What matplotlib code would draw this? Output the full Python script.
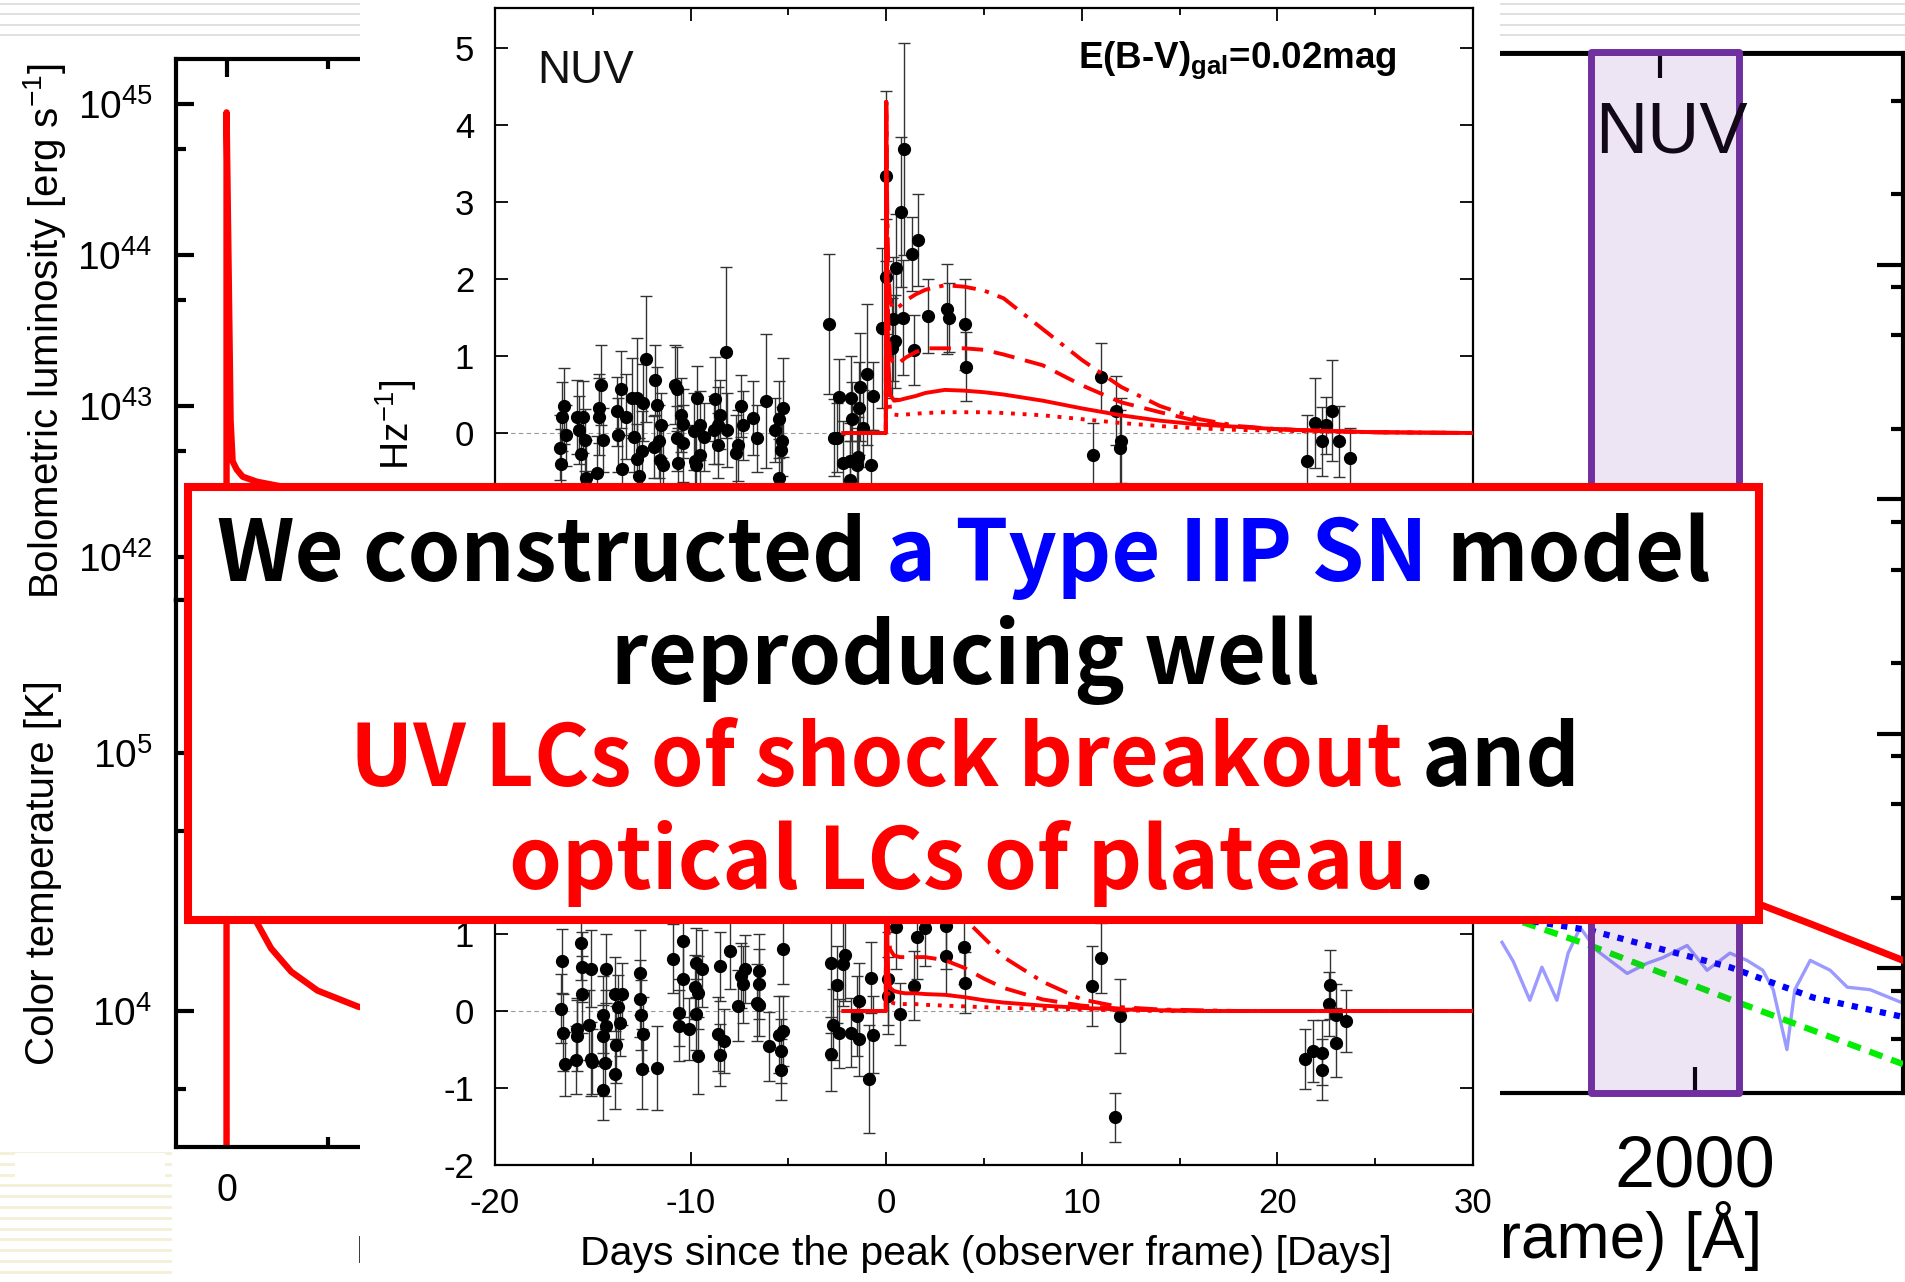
import numpy as np
import matplotlib
matplotlib.use("Agg")
import matplotlib.pyplot as plt
from matplotlib.patches import Rectangle
from matplotlib.lines import Line2D
from matplotlib.ticker import FixedLocator, MultipleLocator, NullFormatter, LogLocator
import matplotlib.transforms as mtransforms

# ---------------- data ----------------
# left panel: bolometric luminosity and colour temperature
t_lum = [-2.5, -0.001, 0.0, 0.05, 0.1, 0.15, 0.2, 0.3, 0.5, 0.8, 1.5, 2.6, 5.0, 10.0, 20.0]
L_bol = [1e40, 1e40, 8.8e44, 2.7e44, 8.4e43, 2.6e43, 8.0e42, 4.3e42, 3.8e42, 3.4e42,
         3.15e42, 2.95e42, 2.75e42, 2.5e42, 2.3e42]
t_temp = [-2.5, -0.001, 0.0, 0.1, 0.3, 0.6, 1.0, 1.5, 2.2, 3.2, 4.5, 6.5, 10.0, 15.0, 20.0]
T_col = [1000, 1000, 3.0e5, 1.5e5, 8.0e4, 4.5e4, 3.0e4, 2.2e4, 1.75e4, 1.42e4, 1.2e4,
         1.04e4, 9.0e3, 8.0e3, 7.2e3]

# centre panel (top): NUV photometry
t_top = [-16.45, -16.6, -16.35, -16.7, -16.64,
         -15.8, -15.5, -15.7, -15.4, -15.6, -15.35,
         -14.6, -14.7, -14.7, -14.5, -14.8,
         -13.55, -13.76, -13.3, -13.7, -13.5,
         -13.0, -12.74, -12.45, -12.3, -12.9, -12.5, -12.74, -12.65,
         -11.8, -11.7, -11.5, -11.6, -11.86, -11.56, -11.4,
         -10.8, -10.7, -10.5, -10.4, -10.7, -10.4, -10.66,
         -9.65, -9.5, -9.84, -9.34, -9.8, -9.5, -9.7,
         -8.2, -8.74, -8.5, -8.6, -8.8, -8.15, -8.6, -7.6, -7.7, -7.4, -7.3, -6.8, -6.6,
         -6.15, -5.67, -5.5, -5.3, -5.35, -5.4, -5.5,
         -2.9, -2.4, -2.65, -2.5, -1.8, -1.4, -1.75, -1.33, -1.0, -0.69, -1.2, -2.2,
         -1.86, -1.5, -1.45, -0.8, -1.86,
         0.0, 0.92, 0.75, 0.5, 0.0, 1.62, 1.31, -0.22, 0.34, 0.88, 0.46, 0.29, 1.4,
         2.14, 3.1, 3.2, 4.05, 4.1,
         11.0, 11.76, 12.0, 11.97, 10.57, 21.9, 22.5, 22.8, 22.3, 23.15, 21.5, 23.7]
f_top = [0.35, 0.21, -0.03, -0.19, -0.40,
         0.21, 0.21, 0.04, -0.09, -0.27, -0.59,
         0.62, 0.32, 0.21, -0.09, -0.52,
         0.57, 0.28, 0.21, -0.02, -0.47,
         0.46, 0.45, 0.39, 0.96, -0.05, -0.24, -0.34, -0.56,
         0.69, 0.36, 0.10, -0.11, -0.18, -0.35, -0.42,
         0.63, 0.57, 0.23, 0.12, -0.07, -0.13, -0.39,
         0.46, 0.10, 0.02, -0.05, -0.37, -0.29, -0.42,
         1.05, 0.44, 0.24, 0.10, 0.04, 0.04, -0.16, -0.16, -0.26, 0.35, 0.10, 0.20, -0.07,
         0.42, 0.04, 0.18, 0.33, -0.11, -0.22, -0.58,
         1.42, 0.47, -0.06, -0.06, 0.45, 0.32, 0.18, 0.60, 0.76, 0.48, 0.06, -0.39,
         -0.37, -0.42, -0.31, -0.41, -0.61,
         3.34, 3.69, 2.87, 2.14, 2.03, 2.51, 2.33, 1.36, 1.48, 1.50, 1.19, 1.10, 1.08,
         1.52, 1.61, 1.50, 1.41, 0.86,
         0.73, 0.29, -0.10, -0.20, -0.29, 0.13, 0.10, 0.29, -0.11, -0.11, -0.37, -0.33]
e_top = [0.49, 0.45, 0.40, 0.42, 0.45,
         0.48, 0.47, 0.44, 0.40, 0.45, 0.50,
         0.52, 0.45, 0.50, 0.42, 0.48,
         0.50, 0.45, 0.55, 0.48, 0.44,
         0.52, 0.79, 0.50, 0.82, 0.45, 0.52, 0.46, 0.50,
         0.45, 0.50, 0.42, 0.48, 0.40, 0.45, 0.52,
         0.51, 0.55, 0.48, 0.45, 0.42, 0.50, 0.46,
         0.41, 0.45, 0.50, 0.44, 0.48, 0.42, 0.50,
         1.11, 0.55, 0.45, 0.50, 0.44, 0.48, 0.42, 0.46, 0.50, 0.40, 0.45, 0.48, 0.44,
         0.87, 0.42, 0.50, 0.64, 0.45, 0.48, 0.50,
         0.91, 0.49, 0.50, 0.45, 0.55, 0.60, 0.48, 0.70, 0.91, 0.44, 0.50, 0.55,
         0.50, 0.48, 0.52, 0.45, 0.50,
         1.10, 1.38, 0.97, 0.70, 0.75, 0.60, 0.48, 1.04, 0.80, 0.75, 0.60, 0.65, 0.45,
         0.48, 0.59, 0.45, 0.59, 0.45,
         0.44, 0.45, 0.55, 0.50, 0.42, 0.58, 0.37, 0.66, 0.45, 0.46, 0.60, 0.40]

# centre panel (bottom)
t_bot = [-16.57, -16.64, -16.54, -16.4,
         -15.6, -15.55, -15.55, -15.8, -15.8, -15.85,
         -15.1, -15.2, -15.1, -15.05,
         -14.35, -14.5, -14.5, -14.4, -14.5,
         -13.85, -13.7, -13.8, -13.85, -14.3, -13.5, -13.6,
         -12.6, -12.6, -12.56, -12.45, -12.5, -11.7,
         -10.4, -10.9, -10.4, -10.6, -10.6,
         -9.7, -9.4, -9.8, -9.6, -9.7, -10.1, -9.6,
         -8.5, -8.6, -8.3, -8.5, -8.0,
         -7.6, -7.4, -7.3, -7.2,
         -6.5, -6.5, -6.6, -6.5, -6.0,
         -5.5, -5.3, -5.4, -5.4, -5.3,
         -2.8, -2.5, -2.7, -2.8, -2.4, -2.1, -2.2,
         -1.8, -1.5, -1.4, -1.4, -0.9, -0.8, -0.7,
         0.1, 0.1, 0.5, 0.7, 1.4, 1.6, 2.0, 3.05, 3.05, 4.0, 4.05,
         10.5, 11.0, 11.95, 11.7,
         21.4, 21.8, 22.3, 22.3, 22.7, 22.65, 23.0, 23.0, 23.5]
f_bot = [0.65, 0.03, -0.28, -0.69,
         0.88, 0.57, 0.22, -0.23, -0.32, -0.64,
         0.55, -0.18, -0.62, -0.66,
         0.55, -0.05, -0.32, -0.67, -1.03,
         0.22, 0.05, -0.44, -0.82, -0.19, 0.22, -0.15,
         0.50, 0.16, -0.05, -0.30, -0.75, -0.74,
         0.91, 0.68, 0.42, -0.02, -0.19,
         0.63, 0.55, 0.31, 0.24, -0.04, -0.23, -0.58,
         0.58, -0.30, -0.39, -0.57, 0.78,
         0.07, 0.46, 0.35, 0.55,
         0.52, 0.35, 0.11, 0.08, -0.46,
         -0.31, -0.26, -0.52, -0.76, 0.80,
         0.62, 0.34, -0.18, -0.56, -0.29, 0.73, 0.61,
         -0.28, -0.06, -0.36, 0.13, -0.88, 0.43, -0.31,
         0.20, 0.42, 1.09, -0.04, 0.33, 0.96, 1.08, 0.72, 1.10, 0.83, 0.37,
         0.33, 0.69, -0.06, -1.38,
         -0.62, -0.52, -0.54, -0.76, 0.34, 0.09, -0.05, -0.41, -0.13]
e_bot = [0.41, 0.45, 0.50, 0.42,
         0.48, 0.45, 0.50, 0.40, 0.46, 0.44,
         0.50, 0.45, 0.48, 0.42,
         0.45, 0.50, 0.40, 0.44, 0.38,
         0.48, 0.42, 0.50, 0.45, 0.46, 0.40, 0.44,
         0.55, 0.50, 0.45, 0.48, 0.52, 0.55,
         0.48, 0.45, 0.50, 0.44, 0.46,
         0.45, 0.50, 0.42, 0.48, 0.46, 0.40, 0.50,
         0.45, 0.48, 0.42, 0.40, 0.50,
         0.46, 0.42, 0.50, 0.44,
         0.48, 0.45, 0.50, 0.40, 0.45,
         0.50, 0.46, 0.42, 0.40, 0.45,
         0.90, 0.50, 0.46, 0.48, 0.45, 0.60, 0.55,
         0.45, 0.52, 0.48, 0.50, 0.70, 0.46, 0.50,
         0.50, 0.60, 0.55, 0.40, 0.45, 0.55, 0.50, 0.50, 0.55, 0.48, 0.40,
         0.52, 0.45, 0.48, 0.32,
         0.39, 0.40, 0.42, 0.40, 0.45, 0.42, 0.40, 0.45, 0.40]

# model light curves
t_mod = [-2.2, -0.02, 0.0, 0.05, 0.1, 0.2, 0.4, 0.7, 1.0, 1.5, 2.0, 3.0, 4.0, 5.0,
         6.0, 8.0, 10.0, 12.0, 14.0, 16.0, 18.0, 20.0, 22.0, 25.0, 30.0]
mod_solid = [0, 0, 4.3, 2.0, 1.0, 0.5, 0.42, 0.43, 0.45, 0.48, 0.52, 0.56, 0.55, 0.53,
             0.50, 0.42, 0.32, 0.23, 0.16, 0.11, 0.08, 0.05, 0.03, 0.01, 0.0]
mod_dotted = [0, 0, 4.3, 1.5, 0.6, 0.3, 0.24, 0.23, 0.24, 0.25, 0.26, 0.27, 0.27, 0.27,
              0.26, 0.23, 0.18, 0.13, 0.09, 0.06, 0.04, 0.03, 0.02, 0.01, 0.0]
mod_dashed = [0, 0, 4.3, 2.5, 1.5, 1.0, 0.88, 0.92, 0.98, 1.05, 1.1, 1.1, 1.1, 1.08,
              1.02, 0.88, 0.62, 0.40, 0.27, 0.15, 0.08, 0.05, 0.03, 0.01, 0.0]
mod_dashdot = [0, 0, 4.3, 3.0, 2.2, 1.7, 1.6, 1.65, 1.72, 1.8, 1.86, 1.92, 1.9, 1.85,
               1.75, 1.35, 0.95, 0.6, 0.35, 0.18, 0.09, 0.05, 0.03, 0.01, 0.0]
mod_solid_b = [0, 0, 3.0, 1.0, 0.5, 0.3, 0.26, 0.24, 0.23, 0.23, 0.22, 0.21, 0.18, 0.14,
               0.11, 0.07, 0.04, 0.02, 0.01, 0, 0, 0, 0, 0, 0]
mod_dotted_b = [0, 0, 2.5, 0.6, 0.25, 0.12, 0.10, 0.09, 0.09, 0.09, 0.08, 0.07, 0.06, 0.05,
                0.04, 0.03, 0.02, 0.01, 0, 0, 0, 0, 0, 0, 0]
mod_dashed_b = [0, 0, 3.5, 1.8, 1.1, 0.8, 0.72, 0.70, 0.70, 0.70, 0.70, 0.66, 0.56, 0.42,
                0.30, 0.15, 0.07, 0.03, 0.01, 0, 0, 0, 0, 0, 0]
mod_dashdot_b = [0, 0, 4.0, 2.5, 1.8, 1.4, 1.3, 1.3, 1.35, 1.4, 1.42, 1.35, 1.2, 0.95,
                 0.7, 0.38, 0.15, 0.05, 0.02, 0.01, 0, 0, 0, 0, 0]

# right panel: spectra (wavelength in A, arbitrary flux)
lam_red = [1000, 1500, 2000, 2163, 2276, 2500]
f_red = [11.9, 5.35, 2.4, 1.85, 1.55, 1.08]
lam_blue = [1000, 1596, 1748, 2084, 2284, 2500]
f_blue = [2.6, 1.6, 1.45, 1.01, 0.75, 0.62]
lam_green = [1000, 1596, 1748, 2108, 2500]
f_green = [3.2, 1.55, 1.25, 0.71, 0.39]
lam_spec = [1536, 1563, 1603, 1632, 1668, 1695, 1724, 1764, 1837, 1885, 1923, 1981,
            2029, 2084, 2125, 2163, 2188, 2221, 2240, 2277, 2325, 2366, 2421, 2500]
f_spec = [1.29, 1.07, 0.73, 1.01, 0.73, 1.16, 1.49, 1.19, 0.95, 1.05, 1.11, 1.25,
          0.98, 1.16, 1.08, 0.98, 0.81, 0.45, 0.81, 1.08, 0.98, 0.83, 0.81, 0.71]
nuv_band = (1750, 2105)

box_lines = [
    [("We constructed", "black"), (" a Type IIP SN", "#0000FF"), (" model", "black")],
    [("reproducing well", "black")],
    [("UV LCs of shock breakout", "#FF0000"), (" and", "black")],
    [("optical LCs of plateau", "#FF0000"), (".", "black")],
]

# ---------------- figure ----------------
W, H = 1905, 1282
DPI = 100
plt.rcParams['font.family'] = ['Liberation Sans', 'DejaVu Sans']
plt.rcParams['mathtext.fontset'] = 'custom'
plt.rcParams['mathtext.rm'] = 'Liberation Sans'
plt.rcParams['mathtext.it'] = 'Liberation Sans:italic'
plt.rcParams['mathtext.bf'] = 'Liberation Sans:bold'
plt.rcParams['axes.unicode_minus'] = False

fig = plt.figure(figsize=(W / DPI, H / DPI), dpi=DPI)
fig.patch.set_facecolor('white')


def fx(px):
    return px / W


def fy(py):
    return 1 - py / H


def px_axes(x0, y0, x1, y1, z):
    ax = fig.add_axes([x0 / W, 1 - y1 / H, (x1 - x0) / W, (y1 - y0) / H])
    ax.set_zorder(z)
    return ax


# slide decoration stripes
for yy in [3.5, 14, 24.5, 35]:
    for xa, xb in [(0, 360), (1500, 1905)]:
        fig.add_artist(Line2D([fx(xa), fx(xb)], [fy(yy), fy(yy)], color='#DDDDDD',
                              lw=1.3, zorder=-1))
for k in range(12):
    yy = 1153 + 10.8 * k
    fig.add_artist(Line2D([0, fx(170)], [fy(yy), fy(yy)], color='#F3F0D6', lw=2.0, zorder=-1))
fig.add_artist(Rectangle((fx(15), fy(1177)), fx(150), 24 / H, transform=fig.transFigure,
                         fc='white', ec='none', zorder=-0.5))

# ---------- left panel ----------
ax_lum = px_axes(176, 59, 631, 600, 0)
ax_tmp = px_axes(176, 600, 631, 1147, 0)
ax_lum.plot(t_lum, L_bol, color='red', lw=4.6)
ax_tmp.plot(t_temp, T_col, color='red', lw=4.6)
ax_lum.set_ylim(10 ** 41.715, 10 ** 45.298)
ax_tmp.set_ylim(10 ** 3.473, 10 ** 5.593)
for ax in (ax_lum, ax_tmp):
    ax.set_yscale('log')
    ax.set_xlim(-2.5, 20)
    ax.set_xticks([0, 10, 20])
    ax.xaxis.set_minor_locator(FixedLocator([5, 15]))
    ax.yaxis.set_minor_locator(LogLocator(base=10, subs=(5,)))
    ax.yaxis.set_minor_formatter(NullFormatter())
    ax.tick_params(which='both', direction='in', top=True, right=True, width=3)
    ax.tick_params(which='major', length=13, labelsize=28, pad=17)
    ax.tick_params(which='minor', length=7)
    for s in ax.spines.values():
        s.set_linewidth(3)
ax_lum.tick_params(labelbottom=False)
ax_tmp.tick_params(axis='x', labelsize=27, pad=18.5)
ax_tmp.text(fx(356), fy(1263), 'Days since explosion (rest frame)', transform=fig.transFigure,
            ha='left', va='baseline', fontsize=28, clip_on=False)
fig.text(fx(45), fy(331), 'Bolometric luminosity [erg s$^{-1}$]', rotation=90,
         ha='center', va='center', fontsize=29)
fig.text(fx(43), fy(873), 'Color temperature [K]', rotation=90,
         ha='center', va='center', fontsize=29)

# ---------- right panel ----------
ax_r = px_axes(1279, 53, 1903, 1093, 0)
ax_r.set_xlim(1000, 2500)
ax_r.set_yscale('log')
ax_r.set_ylim(10 ** -0.532, 10 ** 3.902)
ax_r.plot(lam_spec, f_spec, color='#9A9AFF', lw=2.4, zorder=2)
ax_r.plot(lam_green, f_green, color='#00EE00', lw=4.5, ls=(0, (2.2, 1.5)), zorder=3)
ax_r.plot(lam_blue, f_blue, color='#0000FF', lw=4.5, ls=(0, (1.0, 1.3)), zorder=3)
ax_r.plot(lam_red, f_red, color='#FF0000', lw=5, zorder=4)
band_tr = mtransforms.blended_transform_factory(ax_r.transData, ax_r.transAxes)
ax_r.add_patch(Rectangle((nuv_band[0], 0.0), nuv_band[1] - nuv_band[0], 1.0014,
                         transform=band_tr, fc=(0.44, 0.19, 0.63, 0.12), ec='#7030A0',
                         lw=5, joinstyle='round', clip_on=False, zorder=5))
ax_r.text(1760, 0.904, 'NUV', transform=band_tr, ha='left', va='baseline',
          fontsize=52, color='#120818', zorder=6)
ax_r.set_xticks([2000])
ax_r.set_xticklabels(['2000'])
ax_r.yaxis.set_major_locator(FixedLocator([1, 10, 100, 1000]))
ax_r.yaxis.set_minor_locator(FixedLocator([0.5, 0.8, 2, 5, 8, 20, 50, 80, 200, 500, 800,
                                           2000, 5000]))
ax_r.yaxis.set_major_formatter(NullFormatter())
ax_r.yaxis.set_minor_formatter(NullFormatter())
ax_r.tick_params(axis='x', direction='in', length=19, width=3, labelsize=52, pad=30, top=False)
ax_r.tick_params(axis='y', which='both', direction='in', left=False, right=True, width=3)
ax_r.tick_params(axis='y', which='major', length=19)
ax_r.tick_params(axis='y', which='minor', length=9)
for s in ax_r.spines.values():
    s.set_linewidth(3)
sec = ax_r.secondary_xaxis('top', functions=(lambda x: x * 1.044, lambda x: x / 1.044))
sec.set_xticks([2000])
sec.tick_params(direction='in', length=18, width=3, labeltop=False)
sec.spines['top'].set_linewidth(3.5)
ax_r.text(fx(1762), fy(1258), 'Wavelength (rest frame) [\u00c5]', transform=fig.transFigure,
          ha='right', va='baseline', fontsize=46, clip_on=False)

# white background of the centre figure
fig.add_artist(Rectangle((fx(360), 0), (1500 - 360) / W, 1, transform=fig.transFigure,
                         fc='white', ec='none', zorder=1))

# ---------- centre panels ----------
ax_top = px_axes(495, 8, 1473, 587, 2)
ax_bot = px_axes(495, 586, 1473, 1165, 2)
panels = [
    (ax_top, t_top, f_top, e_top, [mod_solid, mod_dotted, mod_dashed, mod_dashdot]),
    (ax_bot, t_bot, f_bot, e_bot, [mod_solid_b, mod_dotted_b, mod_dashed_b, mod_dashdot_b]),
]
styles = ['-', (0, (1.0, 2.0)), (0, (5.5, 2.8)), (0, (6, 2.4, 1.1, 2.4))]
for ax, tt, ff, ee, mods in panels:
    ax.axhline(0, color='#999999', lw=0.8, ls=(0, (4, 3)), zorder=1)
    ax.errorbar(tt, ff, yerr=ee, fmt='o', color='black', ms=8.5, ecolor='#333333',
                elinewidth=1.0, capsize=4.5, capthick=1.0, zorder=3)
    for m, ls in zip(mods, styles):
        ax.plot(t_mod, m, color='#FF0000', lw=2.8, ls=ls, zorder=4)
    ax.set_xlim(-20, 30)
    ax.set_ylim(-2, 5.52)
    ax.xaxis.set_major_locator(MultipleLocator(10))
    ax.xaxis.set_minor_locator(MultipleLocator(5))
    ax.yaxis.set_major_locator(MultipleLocator(1))
    ax.tick_params(which='both', direction='in', top=True, right=True, width=1.3)
    ax.tick_params(which='major', length=9.5, labelsize=25, pad=15)
    ax.tick_params(which='minor', length=5)
    ax.tick_params(axis='x', pad=16)
    for s in ax.spines.values():
        s.set_linewidth(1.6)
ax_top.tick_params(labelbottom=False)
ax_top.text(fx(537), fy(83), 'NUV', transform=fig.transFigure, ha='left', va='baseline',
            fontsize=33, color='#111111')
ax_top.text(fx(1397), fy(68), r'E(B-V)$_{\mathbf{gal}}$=0.02mag', transform=fig.transFigure,
            ha='right', va='baseline', fontsize=26.5, fontweight='bold')
fig.text(fx(986), fy(1265), 'Days since the peak (observer frame) [Days]', ha='center',
         va='baseline', fontsize=29.5)
fig.text(fx(396), fy(380), r'Flux [10$^{-28}$ erg s$^{-1}$ cm$^{-2}$  Hz$^{-1}$]', rotation=90,
         ha='center', va='top', fontsize=28)

# ---------- message box ----------
fig.add_artist(Rectangle((fx(188), fy(920)), (1759 - 188) / W, (920 - 487) / H,
                         transform=fig.transFigure, fc='white', ec='#FF0000', lw=5.8,
                         zorder=10))
box_font = ['Noto Sans CJK JP', 'DejaVu Sans']
renderer = fig.canvas.get_renderer()


def text_w(s, size):
    t = fig.text(0, 0, s, fontsize=size, family=box_font, fontweight='bold')
    w = t.get_window_extent(renderer).width
    t.remove()
    return w


fs = 60 * 1495 / text_w(''.join(s for s, c in box_lines[0]), 60)
space_w = text_w('n n', fs) - text_w('nn', fs)
baselines = [581, 684, 786, 889]
centres = [964, 965, 965, 972]
for segs, yb, xc in zip(box_lines, baselines, centres):
    widths = [text_w(s.strip(), fs) for s, c in segs]
    gaps = [space_w if s.startswith(' ') else 0 for s, c in segs]
    total = sum(widths) + sum(gaps)
    x = xc - total / 2
    for (s, c), w, g in zip(segs, widths, gaps):
        x += g
        fig.text(fx(x), fy(yb), s.strip(), fontsize=fs, family=box_font, fontweight='bold',
                 color=c, ha='left', va='baseline', zorder=11)
        x += w

fig.savefig('out.png', dpi=DPI)
